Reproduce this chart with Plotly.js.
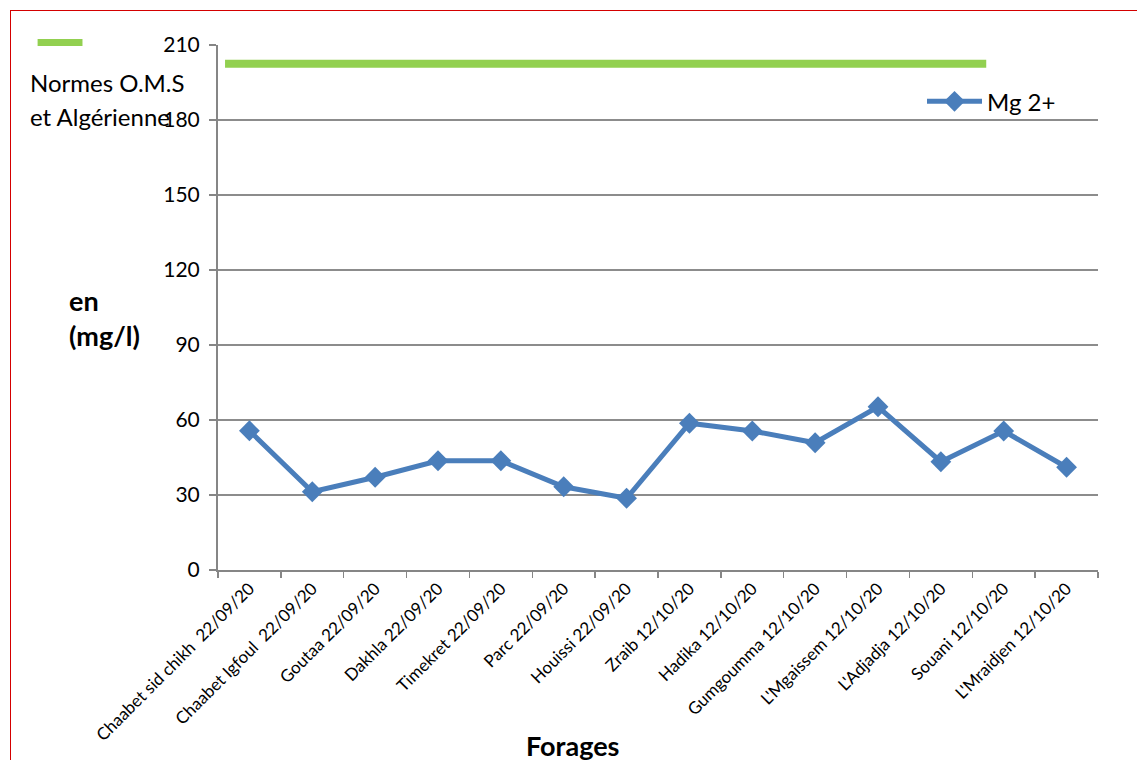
<!DOCTYPE html>
<html><head><meta charset="utf-8">
<script src="https://cdn.plot.ly/plotly-3.0.1.min.js"></script>
<style>
body{margin:0;padding:0;background:#fff;overflow:hidden}
#chart{width:1137px;height:760px;position:absolute;left:0;top:0}
#frame{position:absolute;left:10px;top:10px;width:3000px;height:3000px;border-left:1.5px solid #d40000;border-top:1.5px solid #d40000;pointer-events:none}
</style></head>
<body>
<div id="chart"></div>
<div id="frame"></div>
<script>
const categories = ["Chaabet sid chikh  22/09/20","Chaabet Igfoul  22/09/20","Goutaa 22/09/20","Dakhla 22/09/20","Timekret 22/09/20","Parc 22/09/20","Houissi 22/09/20","Zraib 12/10/20","Hadika 12/10/20","Gumgoumma 12/10/20","L'Mgaissem 12/10/20","L'Adjadja 12/10/20","Souani 12/10/20","L'Mraidjen 12/10/20"];
const mgValues = [55.7,31.3,37.1,43.7,43.7,33.3,28.7,58.7,55.6,50.9,65.3,43.3,55.6,41.1];
const normValue = 202.5;
const yTicks = [0,30,60,90,120,150,180,210];
const seriesName = "Mg 2+";
const normLabel = ["Normes O.M.S","et Algérienne"];

const font = "Lato, 'Open Sans', sans-serif";
const trace = {
  x: categories, y: mgValues, type: "scatter", mode: "lines+markers", name: seriesName,
  line: {color: "#4a7ebb", width: 5},
  marker: {symbol: "diamond", size: 16, color: "#4a7ebb"}
};
const layout = {
  width: 1137, height: 760,
  margin: {l: 218, r: 39, t: 45, b: 190},
  paper_bgcolor: "#fff", plot_bgcolor: "#fff",
  font: {family: font, color: "#000"},
  showlegend: true,
  legend: {x: 0.800, y: 0.892, xanchor: "left", yanchor: "middle", bgcolor: "rgba(0,0,0,0)",
           font: {size: 24, family: font}, itemwidth: 55},
  xaxis: {type: "category", tickangle: -45, tickfont: {size: 17, family: font, color: "#000"},
          showline: true, linecolor: "#868686", linewidth: 2, showgrid: false,
          ticks: "outside", tickson: "boundaries", ticklen: 6, tickcolor: "#868686", tickwidth: 1.5,
          range: [-0.5, categories.length - 0.5], fixedrange: true},
  yaxis: {range: [0, 210], tickvals: yTicks, ticktext: yTicks.map(String),
          tickfont: {size: 21, family: font, color: "#000"},
          showline: true, linecolor: "#868686", linewidth: 2,
          showgrid: true, gridcolor: "#8c8c8c", gridwidth: 1.5, zeroline: false,
          ticks: "outside", ticklen: 7, tickcolor: "#868686", tickwidth: 1.5, ticklabelstandoff: 5},
  shapes: [
    {type: "line", xref: "paper", yref: "y", x0: 0.008, x1: 0.873, y0: normValue, y1: normValue,
     line: {color: "#92d050", width: 8}},
    {type: "line", xref: "paper", yref: "paper", x0: -0.205, x1: -0.154, y0: 1.005, y1: 1.005,
     line: {color: "#92d050", width: 7}}
  ],
  annotations: [
    {text: normLabel[0], xref: "paper", yref: "paper", x: -0.216, y: 0.929, xanchor: "left", yanchor: "middle",
     showarrow: false, font: {size: 24, family: font, color: "#000"}},
    {text: normLabel[1], xref: "paper", yref: "paper", x: -0.216, y: 0.864, xanchor: "left", yanchor: "middle",
     showarrow: false, font: {size: 24, family: font, color: "#000"}},
    {text: "<b>en<br>(mg/l)</b>", xref: "paper", yref: "paper", x: -0.172, y: 0.48, xanchor: "left", yanchor: "middle",
     align: "left", showarrow: false, font: {size: 27, family: font, color: "#000"}},
    {text: "<b>Forages</b>", xref: "paper", yref: "paper", x: 0.403, y: -0.335, xanchor: "center", yanchor: "middle",
     showarrow: false, font: {size: 27, family: font, color: "#000"}}
  ]
};
Plotly.newPlot("chart", [trace], layout, {displayModeBar: false, staticPlot: true});
</script>
</body></html>
